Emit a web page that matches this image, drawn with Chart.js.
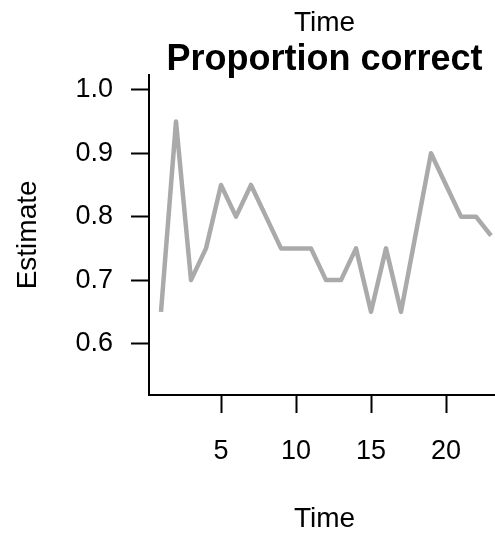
<!DOCTYPE html>
<html>
<head>
<meta charset="utf-8">
<script src="https://cdn.jsdelivr.net/npm/chart.js@4/dist/chart.umd.min.js"></script>
<style>
  html, body { margin: 0; padding: 0; background: #fff; overflow: hidden; }
  #wrap { width: 500px; height: 535px; }
</style>
</head>
<body>
<div id="wrap"><canvas id="estimateChart" width="500" height="535"></canvas></div>
<script>
// values
const timePoints = [1, 2, 3, 4, 5, 6, 7, 8, 9, 10, 11, 12, 13, 14, 15, 16, 17, 18, 19, 20, 21, 22, 23];
const estimates = [0.65, 0.95, 0.70, 0.75, 0.85, 0.80, 0.85, 0.80, 0.75, 0.75, 0.75, 0.70,
                   0.70, 0.75, 0.65, 0.75, 0.65, 0.775, 0.90, 0.85, 0.80, 0.80, 0.77];
const xTicks = [5, 10, 15, 20];
const yTicks = [0.6, 0.7, 0.8, 0.9, 1.0];

const fontFamily = '"Liberation Sans", Arial, sans-serif';

const canvas = document.getElementById('estimateChart');
const ctx = canvas.getContext('2d');

new Chart(ctx, {
    type: 'line',
    data: {
        datasets: [{
            data: timePoints.map((t, i) => ({ x: t, y: estimates[i] })),
            borderColor: '#aaaaaa',
            borderWidth: 4.5,
            pointRadius: 0,
            tension: 0,
            borderJoinStyle: 'round',
            fill: false
        }]
    },
    options: {
        responsive: false,
        animation: false,
        devicePixelRatio: 1,
        layout: { padding: 0 },
        plugins: {
            legend: { display: false },
            tooltip: { enabled: false },
            title: {
                display: true,
                text: 'Time',
                fullSize: false,
                color: '#000',
                font: { family: fontFamily, size: 28, weight: 'normal', lineHeight: 1 },
                padding: { top: 9, bottom: 0 }
            },
            subtitle: {
                display: true,
                text: 'Proportion correct',
                fullSize: false,
                color: '#000',
                font: { family: fontFamily, size: 36, weight: 'bold', lineHeight: 0.8 },
                padding: { top: 9, bottom: 0 }
            }
        },
        scales: {
            x: {
                type: 'linear',
                min: 0.2,
                max: 23.6,
                afterFit: scale => { scale.height = 140; },
                afterBuildTicks: scale => { scale.ticks = xTicks.map(v => ({ value: v })); },
                grid: {
                    drawOnChartArea: false,
                    drawTicks: true,
                    tickLength: 18,
                    tickWidth: 2,
                    tickColor: '#000'
                },
                border: { display: true, color: '#000', width: 2 },
                ticks: {
                    color: '#000',
                    padding: 25,
                    maxRotation: 0,
                    font: { family: fontFamily, size: 27, lineHeight: 1 }
                },
                title: {
                    display: true,
                    text: 'Time',
                    color: '#000',
                    font: { family: fontFamily, size: 28, lineHeight: 1 },
                    padding: { top: 0, bottom: 2 }
                }
            },
            y: {
                min: 0.519,
                max: 1.0235,
                afterFit: scale => { scale.width = 149; },
                afterBuildTicks: scale => { scale.ticks = yTicks.map(v => ({ value: v })); },
                grid: {
                    drawOnChartArea: false,
                    drawTicks: true,
                    tickLength: 18,
                    tickWidth: 2,
                    tickColor: '#000'
                },
                border: { display: true, color: '#000', width: 2 },
                ticks: {
                    color: '#000',
                    padding: 18,
                    font: { family: fontFamily, size: 27, lineHeight: 1 },
                    callback: v => v.toFixed(1)
                },
                title: {
                    display: true,
                    text: 'Estimate',
                    color: '#000',
                    font: { family: fontFamily, size: 28, lineHeight: 1 },
                    padding: { top: 14, bottom: 0 }
                }
            }
        }
    }
});
</script>
</body>
</html>
